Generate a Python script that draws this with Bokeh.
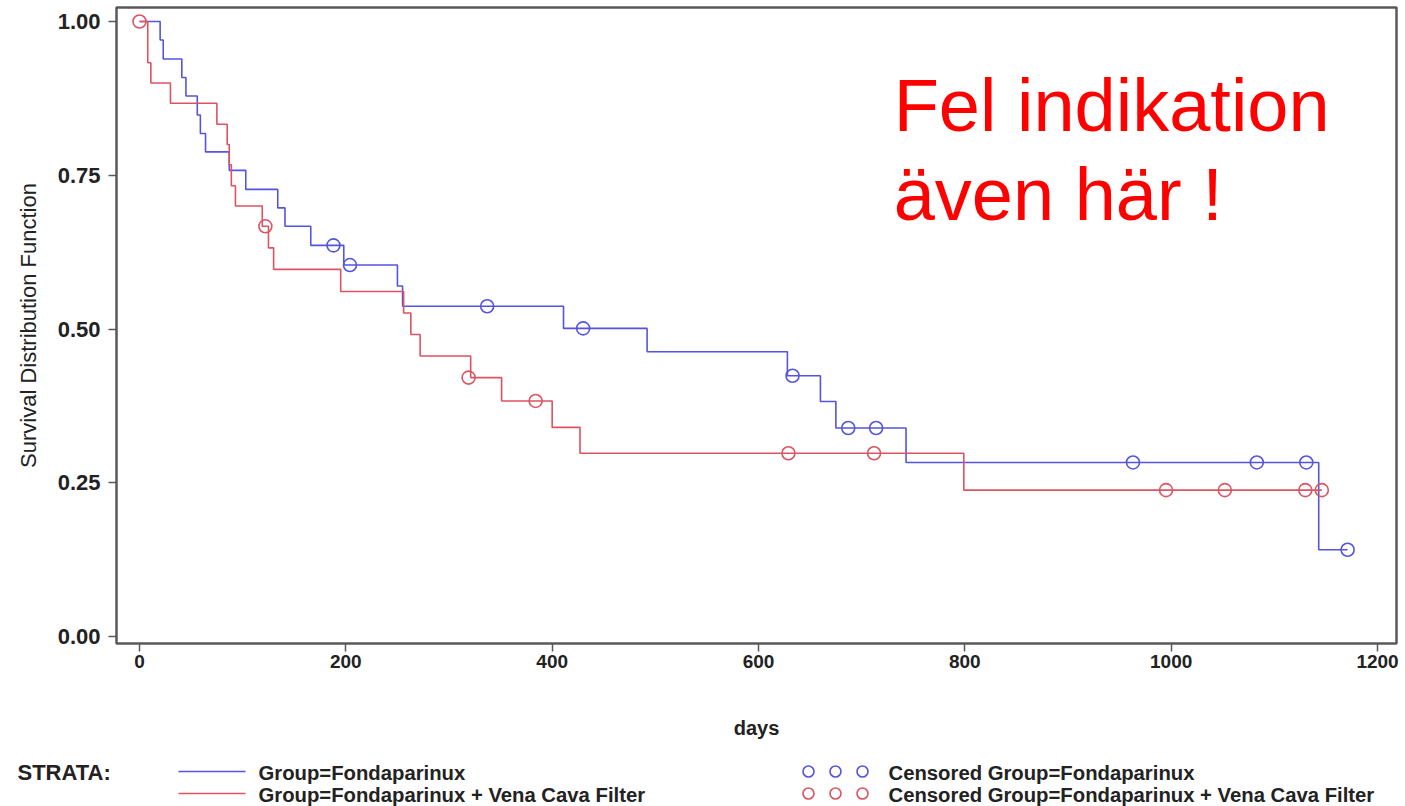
from bokeh.plotting import figure
from bokeh.models import Range1d, FixedTicker, NumeralTickFormatter, Label
from bokeh.layouts import column
from bokeh.embed import file_html
from bokeh.resources import INLINE
from bokeh.core.properties import value

# ---- data ----
fonda_time = [0, 20, 23, 41, 45, 56, 59, 64, 87, 103, 134, 141, 166, 198, 250, 255,
              411, 492, 628, 660, 675, 743, 1143, 1171]
fonda_surv = [1.0, 0.970, 0.939, 0.909, 0.879, 0.848, 0.818, 0.788, 0.758, 0.727, 0.697,
              0.667, 0.636, 0.604, 0.570, 0.537, 0.501, 0.463, 0.424, 0.382, 0.339,
              0.283, 0.141, 0.141]
fonda_cens_time = [188, 204, 337, 430, 633, 687, 714, 963, 1083, 1131, 1171]
fonda_cens_surv = [0.636, 0.604, 0.537, 0.501, 0.424, 0.339, 0.339, 0.283, 0.283, 0.283, 0.141]

vcf_time = [0, 8, 11, 30, 75, 85, 87, 89, 93, 119, 125, 130, 195, 256, 263, 272,
            321, 351, 400, 427, 799, 1146]
vcf_surv = [1.0, 0.933, 0.900, 0.867, 0.833, 0.800, 0.767, 0.733, 0.700, 0.667, 0.632,
            0.597, 0.561, 0.526, 0.491, 0.456, 0.421, 0.383, 0.340, 0.298, 0.238, 0.238]
vcf_cens_time = [0, 122, 319, 384, 629, 712, 995, 1052, 1130, 1146]
vcf_cens_surv = [1.0, 0.667, 0.421, 0.383, 0.298, 0.298, 0.238, 0.238, 0.238, 0.238]

x_ticks = [0, 200, 400, 600, 800, 1000, 1200]
y_ticks = [0.0, 0.25, 0.5, 0.75, 1.0]

strata_title = "STRATA:"
line_labels = ["Group=Fondaparinux", "Group=Fondaparinux + Vena Cava Filter"]
cens_labels = ["Censored Group=Fondaparinux", "Censored Group=Fondaparinux + Vena Cava Filter"]
note_lines = ["Fel indikation", "även här !"]

BLUE = "#5454de"
RED = "#da5462"
FRAME = "#595959"
TXT = "#222222"
FONT = "Liberation Sans"

# ---- main plot ----
p = figure(width=1405, height=748, output_backend="svg", toolbar_location=None,
           x_range=Range1d(-22.3, 1218.4), y_range=Range1d(-0.0114, 1.0228),
           min_border_left=116, min_border_right=9, min_border_top=7,
           min_border_bottom=105)
p.background_fill_color = "white"
p.border_fill_color = "white"
p.xgrid.visible = False
p.ygrid.visible = False
p.outline_line_color = FRAME
p.outline_line_width = 2.5

p.step(fonda_time, fonda_surv, mode="after", line_color=BLUE, line_width=1.6)
p.step(vcf_time, vcf_surv, mode="after", line_color=RED, line_width=1.6)
p.scatter(fonda_cens_time, fonda_cens_surv, marker="circle", size=13,
          fill_color=None, line_color=BLUE, line_width=1.6)
p.scatter(vcf_cens_time, vcf_cens_surv, marker="circle", size=13,
          fill_color=None, line_color=RED, line_width=1.6)

for ax in (p.xaxis[0], p.yaxis[0]):
    ax.axis_line_color = None
    ax.minor_tick_line_color = None
    ax.major_tick_in = 0
    ax.major_tick_out = 8
    ax.major_tick_line_color = FRAME
    ax.major_tick_line_width = 1.5
    ax.major_label_text_font = FONT
    ax.major_label_text_font_style = "bold"
    ax.major_label_text_color = TXT
    ax.axis_label_text_color = TXT
    ax.axis_label_text_font = FONT

p.xaxis.ticker = FixedTicker(ticks=x_ticks)
p.xaxis.major_label_text_font_size = "19px"
p.xaxis.major_label_standoff = 3
p.xaxis.axis_label = "days"
p.xaxis.axis_label_text_font_style = "bold"
p.xaxis.axis_label_text_font_size = "20px"
p.xaxis.axis_label_standoff = 46

p.yaxis.ticker = FixedTicker(ticks=y_ticks)
p.yaxis.formatter = NumeralTickFormatter(format="0.00")
p.yaxis.major_label_text_font_size = "22px"
p.yaxis.major_label_standoff = 8
p.yaxis.axis_label = "Survival Distribution Function"
p.yaxis.axis_label_text_font_style = "normal"
p.yaxis.axis_label_text_font_size = "22px"
p.yaxis.axis_label_standoff = 14

for txt, yy in zip(note_lines, [0.864, 0.719]):
    p.add_layout(Label(x=731, y=yy, text=txt, text_font=FONT,
                       text_font_size="74px", text_color="#ff0000",
                       text_baseline="alphabetic", text_align="left"))

# ---- legend strip: its coordinates are the page's pixels ----
lg = figure(width=1405, height=58, output_backend="svg", toolbar_location=None,
            x_range=Range1d(0, 1405), y_range=Range1d(806, 748),
            x_axis_type=None, y_axis_type=None, min_border=0)
if "frame_align" in lg.properties():
    lg.frame_align = False
    p.frame_align = False
lg.outline_line_color = None
lg.xgrid.visible = False
lg.ygrid.visible = False
lg.background_fill_color = "white"
lg.border_fill_color = "white"

row_y = [771, 793]
colors = [BLUE, RED]
lg.text(x=[17], y=[772], text=[strata_title], text_font=value(FONT),
        text_font_size="22px", text_font_style="bold", text_color=TXT,
        text_baseline="middle")
for yy, c, lab, clab in zip(row_y, colors, line_labels, cens_labels):
    lg.line([178, 245], [yy, yy], line_color=c, line_width=1.6)
    lg.text(x=[258], y=[yy + 1], text=[lab], text_font=value(FONT),
            text_font_size="20.3px", text_font_style="bold", text_color=TXT,
            text_baseline="middle")
    lg.scatter([808, 835, 862], [yy, yy, yy], marker="circle", size=11,
               fill_color=None, line_color=c, line_width=1.6)
    lg.text(x=[888], y=[yy + 1], text=[clab], text_font=value(FONT),
            text_font_size="20.3px", text_font_style="bold", text_color=TXT,
            text_baseline="middle")

layout = column(p, lg, spacing=0)
open("out.html", "w").write(file_html(layout, INLINE))
